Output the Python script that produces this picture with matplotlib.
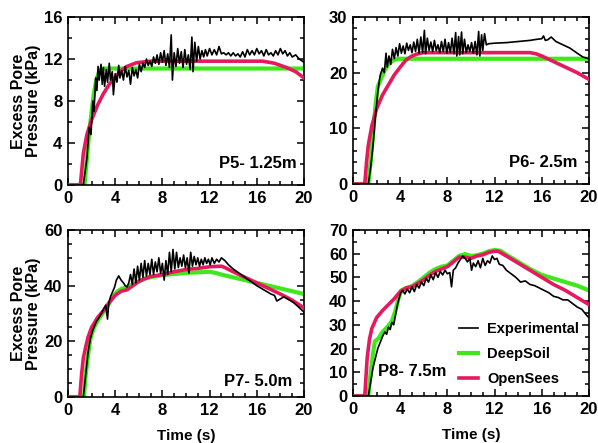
import matplotlib
matplotlib.use("Agg")
import matplotlib.pyplot as plt
from matplotlib.ticker import MultipleLocator

plt.rcParams['font.family'] = ['Liberation Sans', 'DejaVu Sans']
plt.rcParams['font.weight'] = 'bold'

# ---------------- P5 - 1.25 m ----------------
t_exp_p5 = [0, 1.3, 1.6, 1.8, 1.95, 2.1, 2.2, 2.35, 2.45, 2.55, 2.65, 2.8, 2.9, 3.0, 3.1, 3.25, 3.35, 3.5,
            3.6, 3.75, 3.85, 4.0, 4.15, 4.3, 4.4, 4.55, 4.7, 4.85, 5.0, 5.15, 5.3, 5.45, 5.6, 5.75, 5.9,
            6.05, 6.2, 6.35, 6.5, 6.65, 6.8, 6.95, 7.1, 7.25, 7.4, 7.55, 7.7, 7.85, 8.0, 8.15, 8.3, 8.45,
            8.6, 8.75, 8.85, 9.0, 9.15, 9.3, 9.45, 9.6, 9.75, 9.9, 10.05, 10.2, 10.35, 10.5, 10.6, 10.75,
            10.9, 11.05, 11.2, 11.35, 11.5, 11.65, 11.8, 12.0, 12.2, 12.4, 12.6, 12.8, 13.0, 13.2, 13.4,
            13.6, 13.8, 14.0, 14.2, 14.4, 14.6, 14.8, 15.0, 15.2, 15.4, 15.6, 15.8, 16.0, 16.2, 16.4, 16.6,
            16.8, 17.0, 17.2, 17.4, 17.6, 17.8, 18.0, 18.2, 18.4, 18.6, 18.8, 19.0, 19.3, 19.6, 20.0]
exp_p5 = [0, 0, 2.5, 5.5, 4.8, 8.0, 7.0, 10.2, 9.0, 11.3, 10.0, 11.5, 9.6, 11.2, 9.4, 11.0, 9.8, 11.6,
          10.0, 10.8, 8.6, 10.6, 9.8, 11.4, 10.2, 10.9, 10.0, 11.3, 10.3, 10.9, 9.6, 11.2, 10.4, 11.0, 10.2,
          11.5, 10.8, 11.6, 11.2, 12.0, 11.4, 11.8, 11.3, 12.2, 11.6, 12.4, 11.5, 12.6, 11.7, 12.8, 11.4, 12.5,
          11.2, 14.3, 10.0, 12.6, 11.3, 13.0, 11.6, 12.7, 11.2, 12.9, 11.5, 12.4, 11.0, 14.1, 10.8, 13.6,
          11.8, 13.2, 12.0, 12.8, 12.2, 12.9, 12.3, 13.0, 12.4, 12.9, 12.4, 13.2, 12.5, 12.6, 12.4,
          12.6, 12.3, 12.6, 12.3, 12.5, 12.2, 12.7, 12.2, 12.9, 12.4, 12.8, 12.4, 13.0, 12.5, 12.8, 12.3,
          12.9, 12.4, 12.6, 12.3, 12.8, 12.4, 13.0, 12.5, 12.8, 12.3, 12.6, 12.2, 12.4, 12.0, 11.7]
t_ds_p5 = [0, 1.4, 1.6, 1.8, 2.0, 2.2, 2.4, 2.6, 2.8, 3.0, 20]
ds_p5 = [0, 0, 2.5, 5.0, 7.0, 8.8, 10.0, 10.7, 11.0, 11.1, 11.1]
t_os_p5 = [0, 1.05, 1.3, 1.6, 2.0, 2.5, 3.0, 3.5, 4.0, 4.5, 5.0, 5.8, 7.0, 16.5, 17.5, 18.5, 19.3, 20]
os_p5 = [0, 0, 3.0, 4.8, 6.2, 7.6, 8.7, 9.6, 10.3, 10.9, 11.3, 11.65, 11.8, 11.8, 11.6, 11.2, 10.8, 10.2]

# ---------------- P6 - 2.5 m ----------------
t_exp_p6 = [0, 1.3, 1.5, 1.7, 1.9, 2.1, 2.3, 2.5, 2.65, 2.8, 2.9, 3.05, 3.2, 3.35, 3.5, 3.65, 3.8, 3.95,
            4.1, 4.25, 4.4, 4.55, 4.7, 4.85, 5.0, 5.15, 5.3, 5.45, 5.6, 5.75, 5.9, 6.05, 6.15, 6.3, 6.45,
            6.6, 6.75, 6.9, 7.05, 7.2, 7.35, 7.5, 7.65, 7.8, 7.95, 8.1, 8.25, 8.4, 8.55, 8.7, 8.8, 8.95,
            9.05, 9.2, 9.3, 9.45, 9.6, 9.75, 9.9, 10.05, 10.2, 10.35, 10.5, 10.65, 10.75, 10.9, 11.0,
            11.15, 11.3, 11.5, 12.0, 13.0, 14.0, 15.0, 15.6, 16.0, 16.15, 16.3, 16.5, 16.8, 17.2, 17.8,
            18.4, 19.0, 19.5, 20.0]
exp_p6 = [0, 0, 3, 7, 12, 16.5, 19.5, 20.8, 20.0, 23.5, 21.0, 23.0, 21.5, 24.2, 22.5, 24.5, 23.0, 25.2,
          23.5, 24.8, 23.4, 25.3, 24.0, 25.0, 23.6, 25.5, 23.8, 26.0, 23.5, 26.4, 23.6, 27.6, 23.4, 26.2, 24.0,
          25.5, 23.8, 25.8, 24.0, 25.0, 23.6, 25.6, 23.8, 26.0, 23.5, 25.4, 23.6, 26.2, 23.4, 27.2, 23.0, 26.5,
          23.2, 27.3, 23.4, 26.0, 23.6, 25.0, 23.8, 25.4, 23.5, 25.6, 23.2, 27.4, 23.0, 26.8, 24.0,
          27.0, 25.0, 25.2, 25.3, 25.4, 25.6, 25.8, 26.0, 26.1, 26.6, 25.8, 25.9, 26.4, 25.6, 25.0,
          24.4, 23.5, 22.8, 22.5]
t_ds_p6 = [0, 1.3, 1.5, 1.7, 1.9, 2.1, 2.4, 2.7, 3.0, 3.4, 3.8, 20]
ds_p6 = [0, 0, 4, 9, 14, 17.5, 19, 20.5, 21.5, 22.2, 22.5, 22.5]
t_os_p6 = [0, 1.0, 1.15, 1.3, 1.6, 2.0, 2.5, 3.0, 3.5, 4.0, 4.5, 5.0, 5.5, 6.0, 15.0, 15.5, 16.0, 16.5,
           17.0, 18.0, 19.0, 20.0]
os_p6 = [0, 0, 4, 7, 10.5, 13.5, 16, 17.8, 19.6, 21, 22.3, 23, 23.4, 23.6, 23.6, 23.4, 23.0, 22.5,
         22.0, 21.0, 20.0, 18.8]

# ---------------- P7 - 5.0 m ----------------
t_exp_p7 = [0, 1.3, 1.5, 1.7, 1.9, 2.1, 2.4, 2.7, 3.0, 3.2, 3.35, 3.45, 3.6, 3.8, 3.95, 4.1, 4.3, 4.5,
            4.7, 4.85, 5.0, 5.15, 5.3, 5.45, 5.6, 5.75, 5.9, 6.05, 6.2, 6.35, 6.5, 6.65, 6.8, 6.95, 7.1,
            7.25, 7.4, 7.55, 7.7, 7.85, 8.0, 8.15, 8.3, 8.45, 8.6, 8.75, 8.9, 9.05, 9.2, 9.35, 9.5, 9.65,
            9.8, 9.95, 10.1, 10.25, 10.4, 10.55, 10.7, 10.85, 11.0, 11.15, 11.3, 11.45, 11.6, 11.75,
            11.9, 12.05, 12.2, 12.4, 12.6, 12.8, 13.0, 13.3, 13.6, 14.0, 14.5, 15.0, 15.5, 16.0, 16.4,
            16.8, 17.2, 17.5, 17.7, 17.9, 18.3, 18.7, 19.1, 19.5, 20.0]
exp_p7 = [0, 0, 8, 16, 21, 24, 27, 29, 31.5, 33, 28, 33.5, 36, 38, 39.5, 42, 43.5, 42,
          41, 40, 39.5, 41, 44, 40.5, 46, 41, 47, 42, 48, 43, 49, 43.5, 48, 44, 49.5,
          44, 48.5, 45, 50, 44.5, 48, 42, 49, 44, 52, 45, 53, 46, 52, 46.5, 50, 47,
          51, 46.5, 50, 44.5, 52, 47, 50.5, 47.5, 50, 47, 49.5, 47.5, 50, 48,
          49.5, 47.5, 50, 48, 49.5, 48.5, 50, 49, 47.5, 46, 44.5, 43, 41.5, 40, 39,
          38, 37, 36.5, 34.5, 35, 36, 35, 34, 32.5, 30.5]
t_ds_p7 = [0, 1.35, 1.5, 1.7, 1.9, 2.2, 2.6, 3.0, 3.4, 3.8, 4.2, 4.6, 5.0, 5.5, 6.0, 6.5, 7.0, 8.0,
           9.0, 10.0, 11.0, 12.0, 12.5, 13.0, 14.0, 15.0, 16.0, 17.0, 18.0, 19.0, 20.0]
ds_p7 = [0, 0, 8, 15, 21, 25, 28, 30.5, 33, 36, 38, 39, 39.5, 40.5, 41.5, 42.5, 43, 43.8,
         44.2, 44.6, 44.8, 45, 44.6, 44, 43, 42, 41, 40, 39, 38, 37]
t_os_p7 = [0, 1.0, 1.15, 1.3, 1.5, 1.7, 2.0, 2.5, 3.0, 3.5, 4.0, 4.5, 5.0, 5.5, 6.0, 6.5, 7.0, 8.0,
           9.0, 10.0, 11.0, 12.0, 13.0, 13.3, 14.0, 15.0, 16.0, 17.0, 18.0, 19.0, 20.0]
os_p7 = [0, 0, 8, 14, 18, 21.5, 25, 28.5, 31, 34, 36.5, 38, 38.5, 40, 41.5, 42.5, 43.3, 44,
         45, 45.8, 46.2, 46.8, 47, 46.5, 45, 43, 41, 39, 37, 34.8, 32]

# ---------------- P8 - 7.5 m ----------------
t_exp_p8 = [0, 1.3, 1.5, 1.7, 1.9, 2.1, 2.3, 2.5, 2.7, 2.85, 3.0, 3.15, 3.3, 3.45, 3.6, 3.75, 3.9, 4.05,
            4.2, 4.4, 4.6, 4.8, 5.0, 5.2, 5.4, 5.6, 5.8, 6.0, 6.2, 6.4, 6.6, 6.8, 7.0, 7.2, 7.4, 7.6,
            7.8, 8.0, 8.2, 8.35, 8.5, 8.7, 8.9, 9.1, 9.3, 9.5, 9.7, 9.9, 10.05, 10.2, 10.4, 10.6, 10.8,
            11.0, 11.2, 11.4, 11.6, 11.8, 12.0, 12.2, 12.4, 12.7, 13.0, 13.4, 13.8, 14.2, 14.6, 15.0,
            15.4, 15.8, 16.2, 16.6, 17.0, 17.4, 17.8, 18.2, 18.6, 19.0, 19.4, 19.8, 20.0]
exp_p8 = [0, 0, 6, 12, 16, 20, 22.5, 25, 27, 26, 29, 28, 31, 30, 34, 38, 41, 43.5,
          44.5, 43, 45, 43.5, 46, 44, 47, 45.5, 48, 46.5, 49.5, 48, 51, 49, 52, 50, 52.5, 51,
          53, 51.5, 52, 46, 53, 54, 56, 57.5, 59, 58, 56.5, 58, 53, 56, 54.5, 57, 54,
          58, 55, 57, 56, 59, 57.5, 58, 55.5, 55, 53, 51.5, 50, 48, 48.5, 47,
          46.5, 45.5, 44.5, 43.5, 42, 41.5, 40.5, 40.5, 39, 37.5, 36.5, 34, 33]
t_ds_p8 = [0, 1.3, 1.5, 1.7, 1.85, 2.2, 2.5, 2.9, 3.3, 3.6, 3.85, 4.1, 4.5, 5.0, 5.5, 6.0, 6.5, 7.0,
           7.5, 8.0, 8.5, 9.0, 9.5, 10.0, 10.5, 11.0, 11.5, 12.0, 12.5, 13.0, 14.0, 15.0, 16.0, 17.0,
           18.0, 19.0, 20.0]
ds_p8 = [0, 0, 10, 18, 23, 24.5, 27, 29, 31.5, 36, 41, 44.5, 45.5, 46.3, 48, 50, 52, 53.5,
         54.5, 55, 57, 59, 59.8, 59, 59.3, 60, 61, 61.5, 61.2, 59.5, 56.5, 53.5, 51, 49.5,
         48, 46.5, 44.5]
t_os_p8 = [0, 1.0, 1.2, 1.4, 1.6, 2.0, 2.5, 3.0, 3.5, 4.0, 4.5, 5.0, 5.5, 6.0, 6.5, 7.0, 7.5, 8.0,
           8.5, 9.0, 9.5, 10.0, 10.5, 11.0, 11.5, 12.0, 12.3, 13.0, 14.0, 15.0, 16.0, 17.0, 18.0,
           19.0, 20.0]
os_p8 = [0, 0, 16, 24, 28.5, 33, 36, 38.5, 41, 44, 45.5, 46, 47.5, 49, 51, 52.5, 53.5, 54.5,
         56.5, 58.5, 58.5, 58, 59, 59.5, 60.5, 61, 61, 59, 56, 53, 50, 47, 44.5, 41.5, 38.5]

green = '#3ee81a'
pink = '#e6195f'

fig = plt.figure(figsize=(5.98, 4.43), dpi=100)

# posicoes dos eixos (esq, baixo, larg, alt)
ax5 = fig.add_axes([0.1137, 0.5824, 0.3946, 0.379])
ax6 = fig.add_axes([0.5903, 0.5846, 0.3946, 0.377])
ax7 = fig.add_axes([0.1137, 0.1038, 0.3946, 0.377])
ax8 = fig.add_axes([0.5903, 0.1061, 0.3946, 0.375])

panels = [
    (ax5, t_exp_p5, exp_p5, t_ds_p5, ds_p5, t_os_p5, os_p5, 16, 4, 2, "P5- 1.25m", (0.97, 0.13, 'right')),
    (ax6, t_exp_p6, exp_p6, t_ds_p6, ds_p6, t_os_p6, os_p6, 30, 10, 2, "P6- 2.5m", (0.95, 0.13, 'right')),
    (ax7, t_exp_p7, exp_p7, t_ds_p7, ds_p7, t_os_p7, os_p7, 60, 20, 5, "P7- 5.0m", (0.95, 0.09, 'right')),
    (ax8, t_exp_p8, exp_p8, t_ds_p8, ds_p8, t_os_p8, os_p8, 70, 10, 5, "P8- 7.5m", (0.105, 0.145, 'left')),
]

for ax, te, ve, td, vd, to, vo, ymax, ymaj, ymin, label, (tx, ty, ha) in panels:
    ax.plot(td, vd, color=green, lw=3.0, label='DeepSoil', zorder=2)
    ax.plot(to, vo, color=pink, lw=2.6, label='OpenSees', zorder=3)
    ax.plot(te, ve, color='black', lw=1.2, label='Experimental', zorder=4)
    ax.set_xlim(0, 20)
    ax.set_ylim(0, ymax)
    ax.xaxis.set_major_locator(MultipleLocator(4))
    ax.xaxis.set_minor_locator(MultipleLocator(1))
    ax.yaxis.set_major_locator(MultipleLocator(ymaj))
    ax.yaxis.set_minor_locator(MultipleLocator(ymin))
    ax.tick_params(which='both', direction='in', top=True, right=True, labelsize=12, width=1.1)
    ax.tick_params(which='major', length=5, pad=4)
    ax.tick_params(which='minor', length=3)
    for s in ax.spines.values():
        s.set_linewidth(1.2)
    ax.text(tx, ty, label, transform=ax.transAxes, ha=ha, va='center', fontsize=12, fontweight='bold')

for ax in (ax5, ax7):
    ax.set_ylabel("Excess Pore\nPressure (kPa)", fontsize=11.5, fontweight='bold', linespacing=1.0)
    ax.yaxis.set_label_coords(-0.115, 0.5)
for ax in (ax7, ax8):
    ax.set_xlabel("Time (s)", fontsize=11, fontweight='bold', labelpad=8)

h, l = ax8.get_legend_handles_labels()
order = [2, 0, 1]
ax8.legend([h[i] for i in order], [l[i] for i in order], loc='lower right', frameon=False,
           fontsize=10.5, handlelength=1.3, handletextpad=0.6, labelspacing=0.75,
           borderaxespad=0.3)

fig.savefig("out.png", dpi=100)
